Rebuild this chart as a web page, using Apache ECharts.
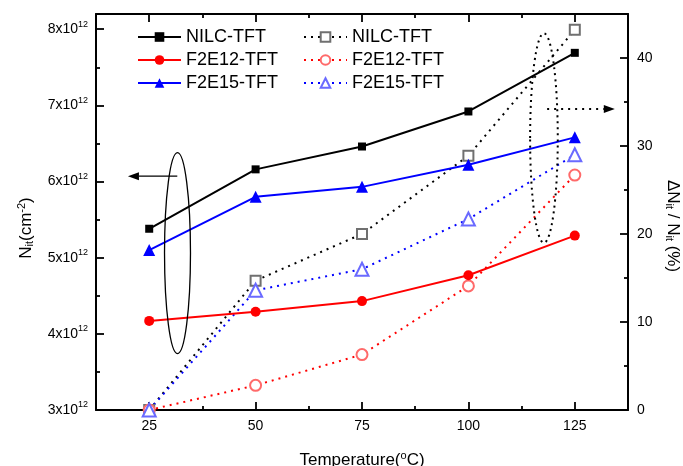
<!DOCTYPE html>
<html>
<head>
<meta charset="utf-8">
<script src="https://cdn.jsdelivr.net/npm/echarts@6/dist/echarts.min.js"></script>
<style>
  html, body { margin: 0; padding: 0; background: #fff; }
  #chart { width: 683px; height: 466px; }
</style>
</head>
<body>
<div id="chart"></div>
<script>
// temperature (°C)
const temps = [25, 50, 75, 100, 125];
const labels = ['NILC-TFT', 'F2E12-TFT', 'F2E15-TFT'];

// N_it, in units of 1e12 cm^-2 (left axis)
const nitNILC = [5.38, 6.16, 6.46, 6.92, 7.69];
const nitF2E12 = [4.17, 4.29, 4.43, 4.77, 5.29];
const nitF2E15 = [5.10, 5.80, 5.93, 6.22, 6.58];

// dN_it / N_it in % (right axis)
const dNILC = [0, 14.7, 20.0, 28.9, 43.2];
const dF2E12 = [0, 2.8, 6.3, 14.1, 26.7];
const dF2E15 = [0, 13.6, 16.0, 21.7, 29.0];

// tick values
const xMajor = [25, 50, 75, 100, 125];
const xMinor = [37.5, 62.5, 87.5, 112.5];
const leftMajor = [3, 4, 5, 6, 7, 8];
const leftMinor = [3.5, 4.5, 5.5, 6.5, 7.5];
const rightMajor = [0, 10, 20, 30, 40];
const rightMinor = [5, 15, 25, 35];

const FONT = '"Liberation Sans", Arial, sans-serif';
const zip = arr => temps.map((t, i) => [t, arr[i]]);

function axisBase(ticks, len, showLine) {
  return {
    axisLine: { show: showLine, onZero: false, lineStyle: { color: '#000', width: 2 } },
    axisTick: { show: true, inside: true, length: len, customValues: ticks,
      lineStyle: { color: '#000', width: 1.8 } },
    axisLabel: { show: false },
    splitLine: { show: false }
  };
}

function xAx(pos, ticks, len, showLine) {
  return Object.assign({ type: 'value', position: pos, min: 12.5, max: 137.5 },
    axisBase(ticks, len, showLine));
}

const xAxes = [
  xAx('bottom', xMajor, 8, true),
  xAx('bottom', xMinor, 4, false),
  xAx('top', xMajor, 8, true),
  xAx('top', xMinor, 4, false)
];
xAxes[0].axisLabel = {
  show: true, customValues: xMajor, margin: 9,
  color: '#000', fontSize: 14, fontFamily: FONT
};
xAxes[0].name = '{a|Temperature(}{s|o}{a|C)}';
xAxes[0].nameLocation = 'middle';
xAxes[0].nameGap = 40;
xAxes[0].nameTextStyle = {
  rich: {
    a: { fontSize: 17, fontFamily: FONT, color: '#000' },
    s: { fontSize: 11, fontFamily: FONT, color: '#000', padding: [0, 0, 9, 0] }
  }
};

const nameRich = {
  a: { fontSize: 17, fontFamily: FONT, color: '#000' },
  b: { fontSize: 11, fontFamily: FONT, color: '#000', padding: [8, 0, 0, 0] },
  s: { fontSize: 11, fontFamily: FONT, color: '#000', padding: [0, 0, 9, 0] }
};

const yLeft = Object.assign({ type: 'value', position: 'left', min: 3, max: 8.2 },
  axisBase(leftMajor, 8, true));
yLeft.axisLabel = {
  show: true, customValues: leftMajor, margin: 8,
  formatter: v => '{a|' + v + 'x10}{s|12}',
  rich: {
    a: { fontSize: 14, fontFamily: FONT, color: '#000' },
    s: { fontSize: 9, fontFamily: FONT, color: '#000', padding: [0, 0, 10, 0] }
  }
};
yLeft.name = '{a|N}{b|it}{a|(cm}{s|-2}{a|)}';
yLeft.nameLocation = 'middle';
yLeft.nameGap = 60;
yLeft.nameTextStyle = { rich: nameRich, padding: [0, 32, 0, 0] };

const yLeftMinor = Object.assign({ type: 'value', position: 'left', min: 3, max: 8.2 },
  axisBase(leftMinor, 4, false));

const yRight = Object.assign({ type: 'value', position: 'right', min: 0, max: 45 },
  axisBase(rightMajor, 8, true));
yRight.axisLabel = {
  show: true, customValues: rightMajor, margin: 9,
  color: '#000', fontSize: 14, fontFamily: FONT
};
yRight.name = '{a|\u0394N}{b|it}{a| / N}{b|it}{a| (%)}';
yRight.nameLocation = 'middle';
yRight.nameRotate = -90;
yRight.nameGap = 33;
yRight.nameTextStyle = { rich: nameRich, padding: [0, 0, 0, 28] };

const yRightMinor = Object.assign({ type: 'value', position: 'right', min: 0, max: 45 },
  axisBase(rightMinor, 4, false));

function solid(label, arr, color, symbol, size) {
  return {
    name: label + ' Nit', type: 'line', xAxisIndex: 0, yAxisIndex: 0,
    data: zip(arr), symbol: symbol, symbolSize: size,
    lineStyle: { color: color, width: 2 },
    itemStyle: { color: color },
    z: 4
  };
}

function dotted(label, arr, color, markColor, symbol, size) {
  return {
    name: label + ' dNit', type: 'line', xAxisIndex: 0, yAxisIndex: 2,
    data: zip(arr), symbol: symbol, symbolSize: size,
    lineStyle: { color: color, width: 2, type: [2, 5] },
    itemStyle: { color: markColor, borderColor: markColor, borderWidth: 1.2 },
    z: 3
  };
}

const series = [
  solid(labels[0], nitNILC, '#000', 'rect', 8),
  solid(labels[1], nitF2E12, '#ff0000', 'circle', 10),
  solid(labels[2], nitF2E15, '#0000ff', 'triangle', 12),
  dotted(labels[0], dNILC, '#000', '#707070', 'emptyRect', 10),
  dotted(labels[1], dF2E12, '#ff0000', '#ff6a6a', 'emptyCircle', 11),
  dotted(labels[2], dF2E15, '#0000ff', '#6a6aff', 'emptyTriangle', 13)
];

function legend(left, suffix) {
  return {
    left: left, top: 28, orient: 'vertical', padding: 0,
    itemWidth: 43, itemHeight: 12, itemGap: 5,
    data: labels.map(l => l + suffix),
    formatter: n => n.replace(suffix, ''),
    selectedMode: false,
    textStyle: { fontSize: 18, fontFamily: FONT, color: '#000' }
  };
}

const chart = echarts.init(document.getElementById('chart'), null, { renderer: 'canvas' });
chart.setOption({
  animation: false,
  backgroundColor: '#fff',
  grid: { left: 96, right: 55, top: 14, bottom: 56, outerBoundsMode: 'none' },
  legend: [legend(137, ' Nit'), legend(303, ' dNit')],
  xAxis: xAxes,
  yAxis: [yLeft, yLeftMinor, yRight, yRightMinor],
  series: series
});

// annotation marks (ellipses around data groups, arrows pointing to their axis)
const solidOval = { x0: 28.6, x1: 34.7, y0: 3.74, y1: 6.38, axis: 0 };
const solidArrow = { from: 31.6, to: 20.0, y: 6.07, axis: 0 };
const dotOval = { x0: 114.5, x1: 121.0, y0: 19.0, y1: 42.8, axis: 2 };
const dotArrow = { from: 118.5, to: 134.4, y: 34.2, axis: 2 };

const px = x => chart.convertToPixel({ xAxisIndex: 0 }, x);
const py = (y, idx) => chart.convertToPixel({ yAxisIndex: idx }, y);

function oval(o, dash) {
  const xa = px(o.x0), xb = px(o.x1), ya = py(o.y0, o.axis), yb = py(o.y1, o.axis);
  return {
    type: 'ellipse', z: 10,
    shape: { cx: (xa + xb) / 2, cy: (ya + yb) / 2, rx: Math.abs(xb - xa) / 2, ry: Math.abs(ya - yb) / 2 },
    style: { fill: null, stroke: '#000', lineWidth: dash ? 2 : 1.3, lineDash: dash || null }
  };
}

function arrow(a, dash) {
  const x0 = px(a.from), x1 = px(a.to), y = py(a.y, a.axis);
  const dir = x1 > x0 ? 1 : -1;
  const head = 11;
  return [
    {
      type: 'line', z: 10,
      shape: { x1: x0, y1: y, x2: x1 - dir * head, y2: y },
      style: { stroke: '#000', lineWidth: dash ? 2 : 1.3, lineDash: dash || null }
    },
    {
      type: 'polygon', z: 10,
      shape: { points: [[x1, y], [x1 - dir * head, y - 4], [x1 - dir * head, y + 4]] },
      style: { fill: '#000' }
    }
  ];
}

chart.setOption({
  graphic: [
    oval(solidOval),
    ...arrow(solidArrow),
    oval(dotOval, [2, 4]),
    ...arrow(dotArrow, [2, 5])
  ]
});
</script>
</body>
</html>
